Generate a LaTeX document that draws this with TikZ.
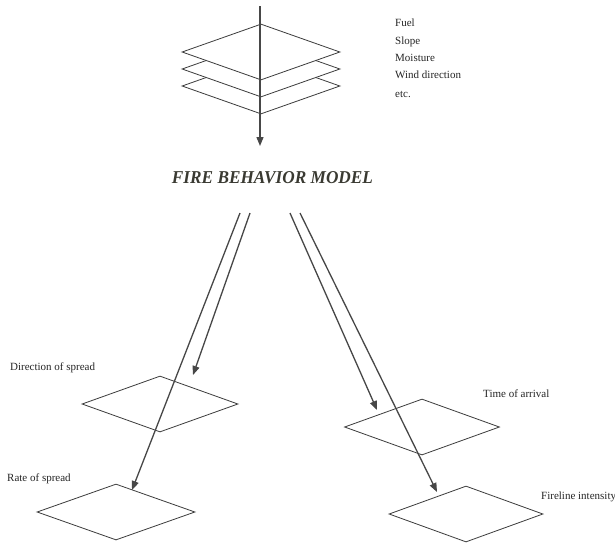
\documentclass[tikz,border=0pt]{standalone}
\usepackage{fontspec}
\setmainfont{Liberation Serif}
\usetikzlibrary{shapes.geometric,arrows.meta}
\definecolor{ink}{HTML}{3C3C3C}
\definecolor{arrowink}{HTML}{474747}
\definecolor{titleink}{HTML}{3A3A32}
\tikzset{
  layer/.style={draw=ink, line width=0.8pt, fill=white, diamond, minimum width=158pt, minimum height=56pt, inner sep=0pt},
  flow/.style={draw=arrowink, line width=1.3pt, -{Triangle[length=9pt,width=7pt]}},
  lbl/.style={font=\fontsize{11}{12}\selectfont, text=black!85, inner sep=0pt, anchor=west}
}
\begin{document}
\begin{tikzpicture}[x=1pt,y=-1pt]
\useasboundingbox[fill=white] (0,0) rectangle (615,544);
% input stack
\node[layer] (l3) at (261,86) {};
\node[layer] (l2) at (261,69) {};
\node[layer] (l1) at (261,52) {};
\coordinate (instart) at (260,6);
\coordinate (inend) at (260,146);
\draw[flow] (instart) -- (inend);
% input list
\node[lbl] (t1) at (395,23) {Fuel};
\node[lbl] (t2) at (395,42) {Slope};
\node[lbl] (t3) at (395,58) {Moisture};
\node[lbl] (t4) at (395,75) {Wind direction};
\node[lbl] (t5) at (395,94) {etc.};
% model
\node[inner sep=0pt, text=titleink] (model) at (272.5,178) {\resizebox{201pt}{12pt}{\bfseries\itshape FIRE BEHAVIOR MODEL}};
% output layers
\node[layer, minimum width=156pt] (dir) at (160,404) {};
\node[layer] (ros) at (116,512) {};
\node[layer, minimum width=155pt] (toa) at (422,427) {};
\node[layer, minimum width=154pt] (fli) at (466,514) {};
\node[lbl] (dirl) at (10,368) {Direction of spread};
\node[lbl] (rosl) at (7,479) {Rate of spread};
\node[lbl] (toal) at (483,394) {Time of arrival};
\node[lbl] (flil) at (541,497) {Fireline intensity};
% output arrows
\coordinate (s1) at (240,213);
\coordinate (s2) at (250,213);
\coordinate (s3) at (290,213);
\coordinate (s4) at (300,213);
\coordinate (e1) at (132,490);
\coordinate (e2) at (193,375);
\coordinate (e3) at (377,410);
\coordinate (e4) at (437,492);
\draw[flow] (s1) -- (e1);
\draw[flow] (s2) -- (e2);
\draw[flow] (s3) -- (e3);
\draw[flow] (s4) -- (e4);
\end{tikzpicture}
\end{document}
